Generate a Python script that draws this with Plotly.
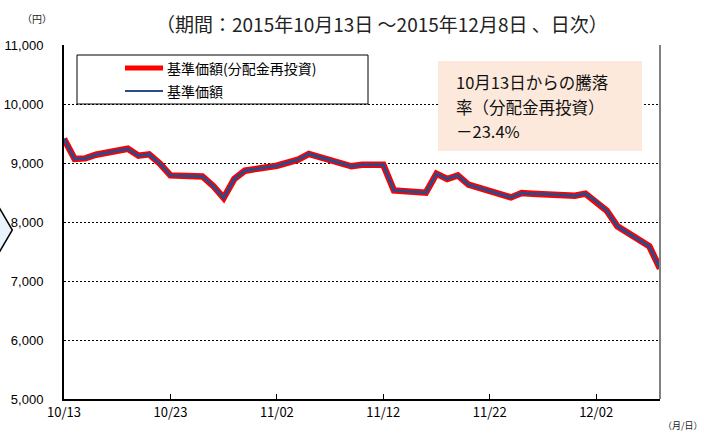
import plotly.graph_objects as go

dates = ["2015-10-13", "2015-10-14", "2015-10-15", "2015-10-16", "2015-10-19", "2015-10-20",
         "2015-10-21", "2015-10-22", "2015-10-23", "2015-10-26", "2015-10-27", "2015-10-28",
         "2015-10-29", "2015-10-30", "2015-11-02", "2015-11-04", "2015-11-05", "2015-11-06",
         "2015-11-09", "2015-11-10", "2015-11-11", "2015-11-12", "2015-11-13", "2015-11-16",
         "2015-11-17", "2015-11-18", "2015-11-19", "2015-11-20", "2015-11-24", "2015-11-25",
         "2015-11-26", "2015-11-27", "2015-11-30", "2015-12-01", "2015-12-02", "2015-12-03",
         "2015-12-04", "2015-12-07", "2015-12-08"]
nav_reinvested = [9410, 9068, 9078, 9140, 9242, 9124, 9146, 8990, 8790, 8773, 8615, 8407,
                  8729, 8870, 8954, 9056, 9153, 9100, 8944, 8971, 8971, 8971, 8536, 8497,
                  8819, 8729, 8790, 8632, 8417, 8491, 8480, 8475, 8446, 8480, 8350, 8192,
                  7926, 7587, 7210]
nav = [9410, 9068, 9078, 9140, 9242, 9124, 9146, 8990, 8790, 8773, 8615, 8407,
       8729, 8870, 8954, 9056, 9153, 9100, 8944, 8971, 8971, 8971, 8536, 8497,
       8819, 8729, 8790, 8632, 8417, 8491, 8480, 8475, 8446, 8480, 8350, 8192,
       7926, 7587, 7210]
x_tick_dates = ["2015-10-13", "2015-10-23", "2015-11-02", "2015-11-12", "2015-11-22", "2015-12-02"]
x_tick_labels = ["10/13", "10/23", "11/02", "11/12", "11/22", "12/02"]
y_ticks = [5000, 6000, 7000, 8000, 9000, 10000, 11000]
series_names = ["基準価額(分配金再投資)", "基準価額"]
title_text = "（期間：2015年10月13日 ～2015年12月8日 、日次）"
note_lines = ["10月13日からの騰落", "率（分配金再投資）", "－23.4%"]

W, H = 704, 433
L, R, T, B = 64, 44, 45, 34
PW, PH = W - L - R, H - T - B


def px(x):
    return (x - L) / PW


def py(y):
    return (H - B - y) / PH


FONT = "Noto Sans CJK JP"
RED = "#FF0000"
BLUE = "#284B8C"

fig = go.Figure()
fig.add_trace(go.Scatter(x=dates, y=nav_reinvested, mode="lines", name=series_names[0],
                         line=dict(color=RED, width=6.5), showlegend=False))
fig.add_trace(go.Scatter(x=dates, y=nav, mode="lines", name=series_names[1],
                         line=dict(color=BLUE, width=3), showlegend=False))

shapes = []
# right border
shapes.append(dict(type="line", xref="paper", yref="paper", x0=1, x1=1, y0=0, y1=1,
                   line=dict(color="#808080", width=2)))
# legend box
shapes.append(dict(type="rect", xref="paper", yref="paper", x0=px(77), x1=px(368),
                   y0=py(104), y1=py(55), line=dict(color="black", width=1),
                   fillcolor="white", layer="above"))
shapes.append(dict(type="line", xref="paper", yref="paper", x0=px(125), x1=px(163),
                   y0=py(68), y1=py(68), line=dict(color=RED, width=5), layer="above"))
shapes.append(dict(type="line", xref="paper", yref="paper", x0=px(125), x1=px(163),
                   y0=py(91), y1=py(91), line=dict(color=BLUE, width=2), layer="above"))
# note box
shapes.append(dict(type="rect", xref="paper", yref="paper", x0=px(438), x1=px(642),
                   y0=py(151), y1=py(61), line=dict(width=0),
                   fillcolor="#FDE9DB", layer="above"))
# left chevron
pts = [(-20, 175), (12.3, 230), (-20, 285)]
path = "M " + " L ".join(f"{px(a):.5f},{py(b):.5f}" for a, b in pts) + " Z"
shapes.append(dict(type="path", xref="paper", yref="paper", path=path,
                   fillcolor="#E8F3FC", line=dict(color="black", width=1.5), layer="above"))

annotations = [
    dict(text=title_text, xref="paper", yref="paper", x=px(382), y=py(24),
         xanchor="center", yanchor="middle", showarrow=False,
         font=dict(family=FONT, size=19, color="#222222")),
    dict(text="（円）", xref="paper", yref="paper", x=px(37), y=py(19),
         xanchor="center", yanchor="middle", showarrow=False,
         font=dict(family=FONT, size=10, color="#222222")),
    dict(text="（月/日）", xref="paper", yref="paper", x=px(683), y=py(425),
         xanchor="center", yanchor="middle", showarrow=False,
         font=dict(family=FONT, size=9, color="#222222")),
    dict(text=series_names[0], xref="paper", yref="paper", x=px(165), y=py(68),
         xanchor="left", yanchor="middle", showarrow=False,
         font=dict(family=FONT, size=14, color="black")),
    dict(text=series_names[1], xref="paper", yref="paper", x=px(165), y=py(91),
         xanchor="left", yanchor="middle", showarrow=False,
         font=dict(family=FONT, size=14, color="black")),
]
for line_text, yy in zip(note_lines, [82, 107, 131]):
    annotations.append(dict(text=line_text, xref="paper", yref="paper", x=px(454), y=py(yy),
                            xanchor="left", yanchor="middle", showarrow=False,
                            font=dict(family=FONT, size=16.5, color="#111111")))

fig.update_layout(
    width=W, height=H,
    margin=dict(l=L, r=R, t=T, b=B, pad=0, autoexpand=False),
    paper_bgcolor="white", plot_bgcolor="white",
    font=dict(family=FONT, color="black"),
    shapes=shapes, annotations=annotations,
    xaxis=dict(type="date", range=["2015-10-13", "2015-12-08"],
               tickvals=x_tick_dates, ticktext=x_tick_labels, automargin=False,
               ticks="inside", ticklen=5, tickwidth=1, tickcolor="black",
               showgrid=False, showline=True, linecolor="black", linewidth=2,
               zeroline=False, tickfont=dict(family=FONT, size=13, color="black")),
    yaxis=dict(range=[5000, 11000], tickvals=y_ticks, tickformat=",d", automargin=False,
               showgrid=True, gridcolor="black", gridwidth=1, griddash="2px,2px",
               showline=True, linecolor="black", linewidth=2, zeroline=False,
               ticks="", ticklabelstandoff=16,
               tickfont=dict(family="Liberation Sans", size=13, color="black")),
)

fig.write_html("out.html", config={"displayModeBar": False},
               post_script="document.body.style.margin='0px';document.body.style.overflow='hidden';")
